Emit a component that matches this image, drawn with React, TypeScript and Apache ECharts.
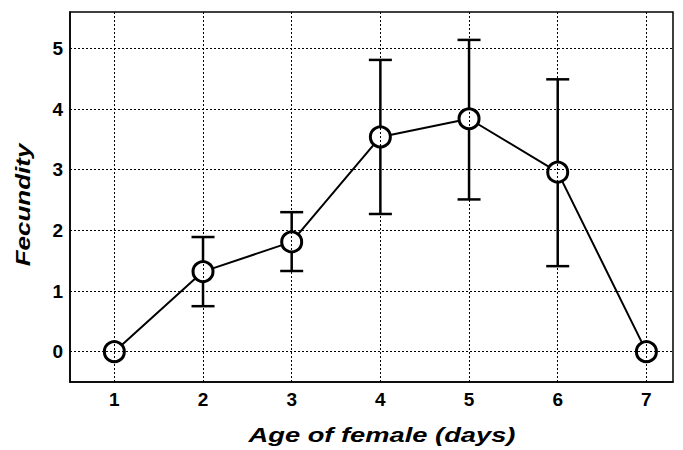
import React, { useEffect, useRef } from "react";
import * as echarts from "echarts";

const ages = [1, 2, 3, 4, 5, 6, 7];
const fecundity = [0, 1.32, 1.81, 3.54, 3.84, 2.96, 0];
const errLow = [null, 0.75, 1.33, 2.27, 2.51, 1.41, null];
const errHigh = [null, 1.89, 2.3, 4.81, 5.14, 4.49, null];
const xGridValues = [1, 2, 3, 4, 5, 6, 7];
const yGridValues = [0, 1, 2, 3, 4, 5];
const xTitle = "Age of female (days)";
const yTitle = "Fecundity";

const FONT = "Liberation Sans, Arial, sans-serif";
const fmt = (v: number) => (Math.abs(v - Math.round(v)) < 1e-9 ? String(Math.round(v)) : "");

export default function App() {
  const ref = useRef<HTMLDivElement>(null);
  useEffect(() => {
    const chart = echarts.init(ref.current!, null, { renderer: "svg" });
    const lineData = ages.map((a, i) => [a, fecundity[i]]);
    const errData = ages
      .map((a, i) => [a, errLow[i], errHigh[i]])
      .filter((d) => d[1] !== null);
    const gridLineStyle = { color: "#000", type: [2, 2], width: 1 };
    chart.setOption({
      animation: false,
      backgroundColor: "#fff",
      grid: {
        left: 70,
        right: 10,
        top: 12,
        bottom: 68,
        show: true,
        borderColor: "#000",
        borderWidth: 1.5,
        backgroundColor: "transparent",
      },
      graphic: [
        {
          type: "text",
          x: 382,
          y: 435,
          scaleX: 1.3,
          style: {
            text: xTitle,
            fontFamily: FONT,
            fontSize: 21,
            fontWeight: "bold",
            fontStyle: "italic",
            fill: "#000",
            align: "center",
            verticalAlign: "middle",
          },
        },
        {
          type: "text",
          x: 23,
          y: 205,
          rotation: Math.PI / 2,
          scaleX: 1.3,
          style: {
            text: yTitle,
            fontFamily: FONT,
            fontSize: 20,
            fontWeight: "bold",
            fontStyle: "italic",
            fill: "#000",
            align: "center",
            verticalAlign: "middle",
          },
        },
      ],
      xAxis: {
        type: "value",
        min: 0.5,
        max: 7.3,
        interval: 0.5,
        axisLine: { show: true, onZero: false, lineStyle: { color: "#000", width: 1.5 } },
        axisTick: { show: false },
        axisLabel: {
          formatter: fmt,
          margin: 8,
          color: "#000",
          fontFamily: FONT,
          fontSize: 19,
          fontWeight: "bold",
        },
        splitLine: { show: false },
      },
      yAxis: {
        type: "value",
        min: -0.5,
        max: 5.6,
        interval: 0.5,
        axisLine: { show: true, onZero: false, lineStyle: { color: "#000", width: 1.5 } },
        axisTick: { show: false },
        axisLabel: {
          formatter: fmt,
          margin: 7,
          color: "#000",
          fontFamily: FONT,
          fontSize: 19,
          fontWeight: "bold",
        },
        splitLine: { show: false },
      },
      series: [
        {
          type: "line",
          z: 1,
          data: lineData,
          showSymbol: false,
          lineStyle: { width: 0, opacity: 0 },
          silent: true,
          markLine: {
            silent: true,
            symbol: ["none", "none"],
            label: { show: false },
            lineStyle: gridLineStyle,
            data: [
              ...xGridValues.map((v) => ({ xAxis: v })),
              ...yGridValues.map((v) => ({ yAxis: v })),
            ],
          },
        },
        {
          type: "custom",
          z: 2,
          data: errData,
          renderItem: (params: any, api: any) => {
            const x = api.value(0);
            const lo = api.coord([x, api.value(1)]);
            const hi = api.coord([x, api.value(2)]);
            const hw = 11.5;
            const style = { stroke: "#000", lineWidth: 2.5 };
            return {
              type: "group",
              children: [
                { type: "line", shape: { x1: lo[0], y1: lo[1], x2: hi[0], y2: hi[1] }, style },
                { type: "line", shape: { x1: lo[0] - hw, y1: lo[1], x2: lo[0] + hw, y2: lo[1] }, style },
                { type: "line", shape: { x1: hi[0] - hw, y1: hi[1], x2: hi[0] + hw, y2: hi[1] }, style },
              ],
            };
          },
        },
        {
          type: "line",
          z: 3,
          data: lineData,
          symbol: "circle",
          symbolSize: 20,
          lineStyle: { color: "#000", width: 2 },
          itemStyle: { color: "#fff", borderColor: "#000", borderWidth: 3 },
        },
      ],
    });
    return () => chart.dispose();
  }, []);
  return <div ref={ref} style={{ width: 683, height: 450, position: "absolute", left: 0, top: 0 }} />;
}
